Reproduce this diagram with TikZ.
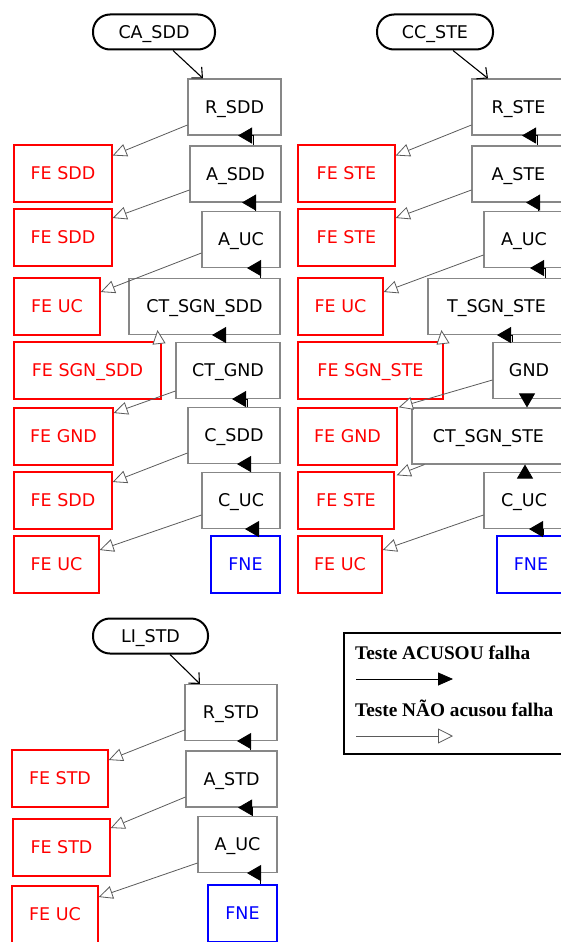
\documentclass[tikz,border=0pt]{standalone}
\usepackage{fontspec}
\setmainfont{DejaVu Sans}
\newfontfamily\legfont{Liberation Serif}
\usetikzlibrary{arrows.meta}

\definecolor{boxgray}{RGB}{135,135,135}
\definecolor{edgegray}{RGB}{90,90,90}

\tikzset{
  nodefont/.style={font=\fontsize{17.5}{20}\selectfont, text height=12.7pt, text depth=0pt},
  startbox/.style={nodefont, draw=black, line width=2pt, rounded corners=17pt, minimum height=35pt, inner sep=0pt},
  testbox/.style={nodefont, draw=boxgray, line width=1.1pt, minimum height=56pt, inner sep=0pt},
  failbox/.style={nodefont, draw=red, text=red, line width=1.4pt, minimum height=57pt, inner sep=0pt},
  passbox/.style={nodefont, draw=blue, text=blue, line width=2pt, minimum height=57pt, inner sep=0pt},
  entryarrow/.style={draw=black, line width=1.1pt, -{Straight Barb[length=8pt,width=15pt]}},
  hitarrow/.style={draw=black, line width=0.8pt, -{Triangle[length=14pt,width=16pt]}},
  missarrow/.style={draw=edgegray, line width=0.8pt, -{Triangle[open,length=14pt,width=13pt,fill=white]}},
  legtext/.style={font=\legfont\bfseries\fontsize{19.3}{22}\selectfont, inner sep=0pt, anchor=west},
}

\begin{document}
\begin{tikzpicture}[x=1pt, y=-1pt]

\useasboundingbox (0,0) rectangle (561,942);
\clip (0,0) rectangle (561,942);

% CA_SDD
\node[startbox, minimum width=122pt] (casdd) at (154,32) {CA\_SDD};
\node[testbox, minimum width=93pt] (rsdd) at (234.5,107) {R\_SDD};
\node[testbox, minimum width=91pt] (asdd) at (235.5,174) {A\_SDD};
\node[testbox, minimum width=78pt] (auca) at (241,239.5) {A\_UC};
\node[testbox, minimum width=151pt] (ctsgnsdd) at (204.5,306.5) {CT\_SGN\_SDD};
\node[testbox, minimum width=104pt] (ctgnd) at (228,370.5) {CT\_GND};
\node[testbox, minimum width=92pt] (csdd) at (234,435.5) {C\_SDD};
\node[testbox, minimum width=78pt] (cuca) at (241,500.5) {C\_UC};
\node[passbox, minimum width=69pt] (fnea) at (245.5,564.5) {FNE};

\node[failbox, minimum width=98pt] (fesdda) at (63,173.5) {FE SDD};
\node[failbox, minimum width=98pt] (fesddb) at (63,237.5) {FE SDD};
\node[failbox, minimum width=86pt] (feuca) at (57,306.5) {FE UC};
\node[failbox, minimum width=147pt] (fesgnsdd) at (87.5,370.5) {FE SGN\_SDD};
\node[failbox, minimum width=99pt] (fegnda) at (63.5,436.5) {FE GND};
\node[failbox, minimum width=98pt] (fesddc) at (63,500.5) {FE SDD};
\node[failbox, minimum width=85pt] (feucb) at (56.5,564.5) {FE UC};

\draw[entryarrow] ([xshift=19pt]casdd.south) -- ([xshift=-31.5pt]rsdd.north);
\draw[hitarrow] ([xshift=17.5pt]asdd.north) |- ([xshift=3.5pt]rsdd.south);
\draw[hitarrow] ([xshift=14pt]auca.north) |- ([xshift=6.5pt]asdd.south);
\draw[hitarrow] ([xshift=55.5pt]ctsgnsdd.north) |- ([xshift=6pt]auca.south);
\draw[hitarrow] ([xshift=-3pt]ctgnd.north) |- ([xshift=7.5pt]ctsgnsdd.south);
\draw[hitarrow] ([xshift=13pt]csdd.north) |- ([xshift=4pt]ctgnd.south);
\draw[hitarrow] ([xshift=9pt]cuca.north) |- ([xshift=3pt]csdd.south);
\draw[hitarrow] ([xshift=12.5pt]fnea.north) |- ([xshift=4pt]cuca.south);

\draw[missarrow] ([yshift=-18pt]rsdd.west) -- ([yshift=18pt]fesdda.east);
\draw[missarrow] ([yshift=-16pt]asdd.west) -- ([yshift=19.5pt]fesddb.east);
\draw[missarrow] ([yshift=-13.5pt]auca.west) -- ([yshift=14.5pt]feuca.east);
\draw[missarrow] ([xshift=-3pt]fesgnsdd.north east) -- ([xshift=29pt,yshift=5pt]ctsgnsdd.south west);
\draw[missarrow] ([yshift=-20.5pt]ctgnd.west) -- ([yshift=23.5pt]fegnda.east);
\draw[missarrow] ([yshift=-17.5pt]csdd.west) -- ([yshift=18.5pt]fesddc.east);
\draw[missarrow] ([yshift=-14.5pt]cuca.west) -- ([yshift=14.5pt]feucb.east);

% CC_STE
\node[startbox, minimum width=116pt] (ccste) at (435,32) {CC\_STE};
\node[testbox, minimum width=93pt] (rste) at (518.5,107) {R\_STE};
\node[testbox, minimum width=93pt] (aste) at (518.5,174) {A\_STE};
\node[testbox, minimum width=80pt] (aucb) at (524,239.5) {A\_UC};
\node[testbox, minimum width=137pt] (tsgnste) at (496.5,306.5) {T\_SGN\_STE};
\node[testbox, minimum width=72pt] (gnd) at (529,370.5) {GND};
\node[testbox, minimum width=153pt] (ctsgnste) at (488.5,436) {CT\_SGN\_STE};
\node[testbox, minimum width=80pt] (cucb) at (524,500.5) {C\_UC};
\node[passbox, minimum width=68pt] (fneb) at (531,564.5) {FNE};

\node[failbox, minimum width=97pt] (festea) at (346.5,173.5) {FE STE};
\node[failbox, minimum width=97pt] (festeb) at (346.5,237.5) {FE STE};
\node[failbox, minimum width=85pt] (feucc) at (340.5,306.5) {FE UC};
\node[failbox, minimum width=145pt] (fesgnste) at (370.5,370.5) {FE SGN\_STE};
\node[failbox, minimum width=99pt] (fegndb) at (347.5,436.5) {FE GND};
\node[failbox, minimum width=96pt] (festec) at (346,500.5) {FE STE};
\node[failbox, minimum width=84pt] (feucd) at (340,564.5) {FE UC};

\draw[entryarrow] ([xshift=18pt]ccste.south) -- ([xshift=-30.5pt]rste.north);
\draw[hitarrow] ([xshift=18.5pt]aste.north) |- ([xshift=3.5pt]rste.south);
\draw[hitarrow] ([xshift=14pt]aucb.north) |- ([xshift=7.5pt]aste.south);
\draw[hitarrow] ([xshift=48.5pt]tsgnste.north) |- ([xshift=6pt]aucb.south);
\draw[hitarrow] ([xshift=-17pt]gnd.north) |- ([xshift=0.5pt]tsgnste.south);
\draw[hitarrow] ([xshift=-2pt]gnd.south) -- ([xshift=38.5pt]ctsgnste.north);
\draw[hitarrow] ([xshift=1pt]cucb.north) -- ([xshift=36.5pt]ctsgnste.south);
\draw[hitarrow] ([xshift=12pt]fneb.north) |- ([xshift=5pt]cucb.south);

\draw[missarrow] ([yshift=-18pt]rste.west) -- ([yshift=18pt]festea.east);
\draw[missarrow] ([yshift=-16pt]aste.west) -- ([yshift=19.5pt]festeb.east);
\draw[missarrow] ([yshift=-15.5pt]aucb.west) -- ([yshift=14.5pt]feucc.east);
\draw[missarrow] ([xshift=-1pt]fesgnste.north east) -- ([xshift=14pt,yshift=5pt]tsgnste.south west);
\draw[missarrow] ([yshift=-9.5pt]gnd.west) -- ([xshift=1pt]fegndb.north east);
\draw[missarrow] ([xshift=13pt]ctsgnste.south west) -- ([xshift=2pt,yshift=-4pt]festec.north east);
\draw[missarrow] ([yshift=-14.5pt]cucb.west) -- ([yshift=14.5pt]feucd.east);

% LI_STD
\node[startbox, minimum width=115pt] (listd) at (150.5,636) {LI\_STD};
\node[testbox, minimum width=92pt] (rstd) at (231,712.5) {R\_STD};
\node[testbox, minimum width=91pt] (astd) at (231.5,779) {A\_STD};
\node[testbox, minimum width=79pt] (aucc) at (237.5,844.5) {A\_UC};
\node[passbox, minimum width=69pt] (fnec) at (242.5,913.5) {FNE};

\node[failbox, minimum width=96pt] (festda) at (60,778.5) {FE STD};
\node[failbox, minimum width=97pt] (festdb) at (61.5,847.5) {FE STD};
\node[failbox, minimum width=86pt] (feuce) at (55,914.5) {FE UC};

\draw[entryarrow] ([xshift=19.5pt]listd.south) -- ([xshift=-31pt]rstd.north);
\draw[hitarrow] ([xshift=18.5pt]astd.north) |- ([xshift=6pt]rstd.south);
\draw[hitarrow] ([xshift=14.5pt]aucc.north) |- ([xshift=6.5pt]astd.south);
\draw[hitarrow] ([xshift=17.5pt]fnec.north) |- ([xshift=9.5pt]aucc.south);

\draw[missarrow] ([yshift=-17.5pt]rstd.west) -- ([yshift=18.5pt]festda.east);
\draw[missarrow] ([yshift=-18pt]astd.west) -- ([yshift=19.5pt]festdb.east);
\draw[missarrow] ([yshift=-18.5pt]aucc.west) -- ([yshift=17.5pt]feuce.east);

% legend
\node[draw=black, line width=1.3pt, minimum width=256pt, minimum height=121pt] (legend) at (472,693.5) {};
\node[legtext] (hitlabel) at (355,653) {Teste ACUSOU falha};
\node[legtext] (misslabel) at (355,708) {Teste NÃO acusou falha};
\coordinate (hitfrom) at (356,679);
\coordinate (hitto) at (453,679);
\coordinate (missfrom) at (356,736);
\coordinate (missto) at (453,736);
\draw[hitarrow, -{Triangle[length=15pt,width=13pt]}] (hitfrom) -- (hitto);
\draw[missarrow, -{Triangle[open,length=15pt,width=15pt,fill=white]}] (missfrom) -- (missto);

\end{tikzpicture}
\end{document}
